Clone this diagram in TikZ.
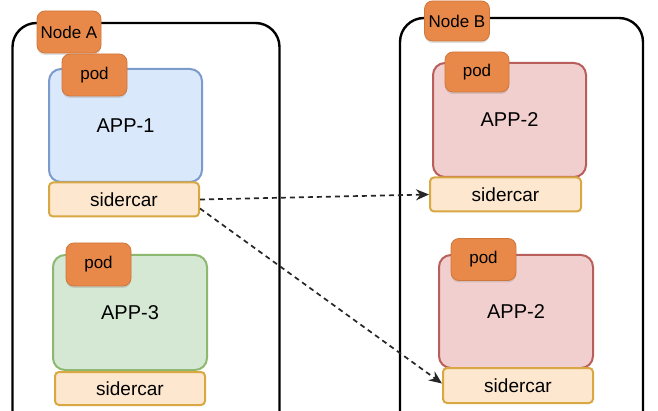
\documentclass[tikz,border=0pt]{standalone}
\usepackage{fontspec}
\setmainfont{Liberation Sans}
\usetikzlibrary{arrows.meta,shadows}
\definecolor{tabfill}{HTML}{E8894A}
\definecolor{tabline}{HTML}{CF773A}
\definecolor{bluefill}{HTML}{DAE8FC}
\definecolor{blueline}{HTML}{7B9BCB}
\definecolor{greenfill}{HTML}{D5E8D4}
\definecolor{greenline}{HTML}{8CB870}
\definecolor{redfill}{HTML}{F2CFCF}
\definecolor{redline}{HTML}{B85F5C}
\definecolor{carfill}{HTML}{FDE7CE}
\definecolor{carline}{HTML}{D9A842}

\begin{document}
\begin{tikzpicture}[x=1pt,y=-1pt,
    host/.style={draw=black,line width=2.4pt,rounded corners=24pt,inner sep=0pt},
    app/.style={line width=2pt,rounded corners=12pt,minimum width=153pt,minimum height=113pt,inner sep=0pt,font=\fontsize{20}{24}\selectfont},
    car/.style={draw=carline,fill=carfill,line width=2pt,rounded corners=4pt,minimum width=150pt,minimum height=34pt,inner sep=0pt,font=\fontsize{19}{22}\selectfont},
    tab/.style={draw=tabline,fill=tabfill,line width=0.8pt,rounded corners=8pt,minimum width=65pt,minimum height=41pt,inner sep=0pt,font=\fontsize{17}{20}\selectfont,
        drop shadow={shadow xshift=0pt,shadow yshift=-2pt,opacity=0.25}},
    link/.style={dashed,dash pattern=on 5pt off 4pt,line width=1.7pt,black!85,-{Stealth[length=13pt,width=11pt]}}]
    \clip[use as bounding box] (0,0) rectangle (658,411);

    \node[host,minimum width=267pt,minimum height=440pt] at (146,243) (hostA) {};
    \node[host,minimum width=243pt,minimum height=440pt] at (521.5,238) (hostB) {};

    \node[app,draw=blueline,fill=bluefill] at (125.5,125.5) (app1) {APP-1};
    \node[car] at (124,199.5) (car1) {sidercar};
    \node[app,draw=greenline,fill=greenfill,minimum width=154pt,minimum height=115pt] at (130,312.5) (app3) {APP-3};
    \node[car,minimum height=33pt] at (130,388.5) (car3) {sidercar};

    \node[app,draw=redline,fill=redfill,minimum height=114pt] at (509.5,120) (app2a) {APP-2};
    \node[car,minimum width=151pt] at (505.5,194.5) (car2a) {sidercar};
    \node[app,draw=redline,fill=redfill,minimum width=154pt] at (516,311.5) (app2b) {APP-2};
    \node[car,minimum height=35pt] at (518,385.5) (car2b) {sidercar};

    \node[tab,minimum width=64pt,minimum height=42pt] at (69,32) (nodeA) {Node A};
    \node[tab,minimum height=40pt] at (457,21) (nodeB) {Node B};
    \node[tab,minimum height=42pt] at (94.5,75) (pod1) {pod};
    \node[tab,minimum height=43pt] at (98.5,264.5) (pod3) {pod};
    \node[tab,minimum width=64pt,minimum height=40pt] at (477,72) (pod2a) {pod};
    \node[tab,minimum height=42pt] at (483.5,259.5) (pod2b) {pod};

    \draw[link] (car1.east) -- (car2a.west);
    \draw[link] ([yshift=-9pt]car1.east) -- ([yshift=2pt]car2b.west);
\end{tikzpicture}
\end{document}
